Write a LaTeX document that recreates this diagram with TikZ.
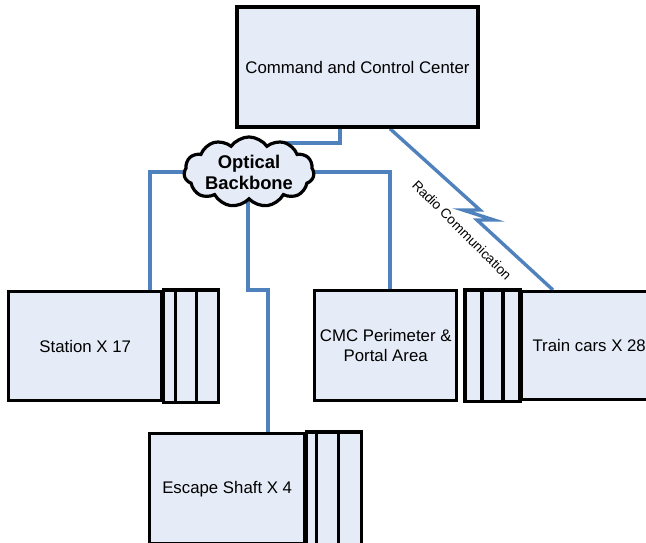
\documentclass[tikz,border=0pt]{standalone}
\usepackage{fontspec}
\setmainfont{Liberation Sans}
\usetikzlibrary{shapes.symbols,backgrounds}
\definecolor{boxfill}{RGB}{230,236,247}
\definecolor{linkblue}{RGB}{79,129,189}
\tikzset{
  box/.style={draw=black, line width=3.4pt, fill=boxfill, rectangle, inner sep=2pt,
    font=\fontsize{16.8}{20.5}\selectfont, align=center},
  strip/.style={draw=black, line width=3.4pt, fill=boxfill},
  link/.style={draw=linkblue, line width=3.4pt},
  cloudnode/.style={cloud, cloud puffs=11, cloud puff arc=110, aspect=2.3, draw=black, line width=3.2pt,
    fill=boxfill, inner sep=0pt, minimum width=130pt, minimum height=55pt,
    font=\fontsize{18.4}{22}\selectfont\bfseries, align=center},
  radiolabel/.style={font=\fontsize{13.6}{16}\selectfont, rotate=-45, inner sep=0pt}
}
\begin{document}
\begin{tikzpicture}[x=1pt,y=-1pt]
\useasboundingbox (0,0) rectangle (646,543);
% command centre
\node[box, minimum width=241pt, minimum height=120pt] (cc) at (357.5,67) {Command and Control Center};
% optical backbone cloud
\node[cloudnode] (ob) at (249,172) {Optical\\[-1pt]Backbone};
% station
\node[box, anchor=north west, minimum width=153pt, minimum height=109pt] (st) at (7,290) {Station X 17};
\draw[strip] (st.north east) rectangle ([xshift=12pt]st.south east);
\draw[strip] ([xshift=12pt]st.north east) rectangle ([xshift=33pt]st.south east);
\draw[strip] ([xshift=33pt]st.north east) rectangle ([xshift=55pt]st.south east);
% CMC perimeter
\node[box, anchor=north west, minimum width=142pt, minimum height=110pt] (cmc) at (313,289) {CMC Perimeter \&\\Portal Area};
% train cars
\node[box, anchor=north west, minimum width=135pt, minimum height=108pt] (tr) at (520,290) {Train cars X 28};
\draw[strip] ([xshift=-55pt]tr.north west) rectangle ([xshift=-38pt]tr.south west);
\draw[strip] ([xshift=-38pt]tr.north west) rectangle ([xshift=-17pt]tr.south west);
\draw[strip] ([xshift=-17pt]tr.north west) rectangle (tr.south west);
% escape shaft
\node[box, anchor=north west, minimum width=155pt, minimum height=110pt] (esc) at (148,432) {Escape Shaft X 4};
\draw[strip] (esc.north east) rectangle ([xshift=10pt]esc.south east);
\draw[strip] ([xshift=10pt]esc.north east) rectangle ([xshift=32pt]esc.south east);
\draw[strip] ([xshift=32pt]esc.north east) rectangle ([xshift=55pt]esc.south east);
% radio label
\node[radiolabel] (rl) at (462,230) {Radio Communication};
% connectors
\begin{scope}[on background layer]
\draw[link] (cc.south -| 340,0) -- (340,143) -| (ob.center -| 288,0);
\draw[link] (ob.center) -| (st.north -| 150,0);
\draw[link] (ob.center) -| (cmc.north -| 390,0);
\draw[link] (ob.center -| 248,0) |- (268,290) -- (esc.north -| 268,0);
\draw[link, line join=miter] (cc.south -| 390,0) -- (480,210) -- (463,210) -- (494,220) -- (477,220) -- (tr.north -| 553,0);
\end{scope}
\end{tikzpicture}
\end{document}
